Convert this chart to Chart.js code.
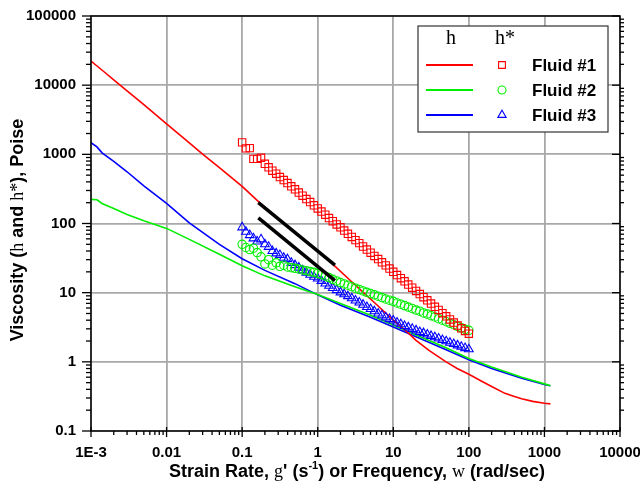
<!DOCTYPE html>
<html>
<head>
<meta charset="utf-8">
<script src="https://cdn.jsdelivr.net/npm/chart.js@4.4.1/dist/chart.umd.min.js"></script>
<style>
  html, body { margin: 0; padding: 0; background: #fff; }
</style>
</head>
<body>
<canvas id="chart" width="640" height="491"></canvas>
<script>
// axis ticks
const xTickValues = [0.001, 0.01, 0.1, 1, 10, 100, 1000, 10000];
const xTickLabels = ['1E-3', '0.01', '0.1', '1', '10', '100', '1000', '10000'];
const yTickValues = [0.1, 1, 10, 100, 1000, 10000, 100000];
const yTickLabels = ['0.1', '1', '10', '100', '1000', '10000', '100000'];

// steady shear viscosity (lines)
const fluid1EtaX = [0.001, 0.0015, 0.002, 0.003, 0.005, 0.01, 0.02, 0.03, 0.05, 0.1, 0.17, 0.3, 0.5, 1, 1.7, 2.7, 4, 6, 10, 15, 20, 30, 50, 70, 100, 150, 200, 300, 400, 500, 700, 1000, 1200];
const fluid1EtaY = [22300, 15500, 11950, 8300, 5240, 2750, 1470, 1010, 645, 345, 200, 117, 74, 40, 24, 15, 10.1, 6.75, 4.0, 2.75, 2.05, 1.45, 1.0, 0.8, 0.66, 0.52, 0.44, 0.35, 0.315, 0.292, 0.268, 0.252, 0.247];
const fluid2EtaX = [0.001, 0.0012, 0.0014, 0.002, 0.003, 0.005, 0.01, 0.02, 0.05, 0.1, 0.2, 0.5, 1, 2, 5, 10, 20, 50, 100, 200, 500, 1000, 1200];
const fluid2EtaY = [223, 220, 195, 165, 135, 110, 85, 59, 36, 24.5, 17.5, 12.2, 9.4, 7.0, 4.7, 3.4, 2.45, 1.6, 1.12, 0.84, 0.6, 0.48, 0.45];
const fluid3EtaX = [0.001, 0.0012, 0.0014, 0.002, 0.003, 0.005, 0.01, 0.02, 0.05, 0.1, 0.2, 0.5, 1, 2, 5, 10, 20, 50, 100, 200, 500, 1000, 1200];
const fluid3EtaY = [1470, 1280, 1050, 790, 560, 350, 196, 102, 50, 31, 21, 13.5, 9.3, 6.6, 4.4, 3.2, 2.3, 1.5, 1.07, 0.8, 0.58, 0.47, 0.45];

// complex viscosity (markers), shared frequencies
const freq = [
  0.1, 0.112, 0.126, 0.141, 0.158, 0.178, 0.2, 0.224, 0.251, 0.282, 0.316, 0.355, 0.398, 0.447, 0.501, 0.562, 0.631, 0.708, 0.794, 0.891,
  1, 1.12, 1.26, 1.41, 1.58, 1.78, 2, 2.24, 2.51, 2.82, 3.16, 3.55, 3.98, 4.47, 5.01, 5.62, 6.31, 7.08, 7.94, 8.91,
  10, 11.2, 12.6, 14.1, 15.8, 17.8, 20, 22.4, 25.1, 28.2, 31.6, 35.5, 39.8, 44.7, 50.1, 56.2, 63.1, 70.8, 79.4, 89.1,
  100
];
const fluid1EtaStar = [
  1490, 1220, 1230, 860, 860, 890, 730, 650, 580, 525, 470, 425, 385, 345, 312, 280, 252, 226, 204, 183,
  165, 149, 134, 120, 108, 97, 88, 79, 71, 64, 57.5, 52, 46.5, 42, 37.8, 34, 30.6, 27.5, 24.8, 22.3,
  20, 18, 16.2, 14.6, 13.1, 11.8, 10.6, 9.55, 8.6, 7.75, 6.95, 6.25, 5.62, 5.05, 4.55, 4.1, 3.7, 3.35, 3.05, 2.8,
  2.55
];
const fluid2EtaStar = [
  50, 45, 42, 44, 38, 33, 26, 30, 25, 27, 24, 25, 23.5, 23, 22.5, 22, 21.3, 20.8, 20.2, 19.7,
  19, 18.2, 17.3, 16.5, 15.6, 14.8, 14, 13.4, 12.8, 12.2, 11.6, 11.1, 10.6, 10.1, 9.7, 9.3, 8.9, 8.5, 8.1, 7.8,
  7.5, 7.1, 6.8, 6.5, 6.2, 5.9, 5.6, 5.4, 5.1, 4.9, 4.65, 4.45, 4.2, 4.0, 3.8, 3.6, 3.45, 3.25, 3.1, 2.95,
  2.85
];
const fluid3EtaStar = [
  88, 76, 68, 61, 55, 59, 50, 46, 40, 37, 35, 32, 30.5, 27, 25, 23, 21, 19.5, 18.2, 17,
  16, 14.8, 13.6, 12.6, 11.7, 10.9, 10.1, 9.5, 8.9, 8.3, 7.7, 7.2, 6.7, 6.2, 5.8, 5.4, 5.0, 4.7, 4.4, 4.15,
  3.95, 3.7, 3.5, 3.3, 3.15, 3.0, 2.85, 2.7, 2.6, 2.48, 2.37, 2.27, 2.17, 2.07, 1.98, 1.89, 1.81, 1.73, 1.65, 1.58,
  1.52
];

// black slope guide lines
const guideUpperX = [0.164, 1.69];
const guideUpperY = [200, 25];
const guideLowerX = [0.164, 1.69];
const guideLowerY = [121, 14.9];

const fluidNames = ['Fluid #1', 'Fluid #2', 'Fluid #3'];
const fluidColors = ['#ff0000', '#00ee00', '#0000ff'];
const markerStyles = ['rect', 'circle', 'triangle'];

const SANS_B = 'bold 18px "Liberation Sans", Arial, sans-serif';
const SERIF = '18px "Liberation Serif", "Times New Roman", serif';
const SUP = 'bold 11px "Liberation Sans", Arial, sans-serif';

const toPoints = (xs, ys) => xs.map((x, i) => ({ x, y: ys[i] }));

function lineSet(xs, ys, color) {
  return {
    data: toPoints(xs, ys),
    showLine: true,
    borderColor: color,
    borderWidth: 1.6,
    pointRadius: 0,
    tension: 0,
    order: 2,
  };
}

function markerSet(ys, color, style, radius) {
  return {
    data: toPoints(freq, ys),
    showLine: false,
    pointStyle: style,
    pointRadius: radius,
    borderColor: color,
    backgroundColor: 'transparent',
    pointBorderWidth: 1.1,
    order: 1,
  };
}

function guideSet(xs, ys) {
  return {
    data: toPoints(xs, ys),
    showLine: true,
    borderColor: '#000',
    borderWidth: 3.5,
    pointRadius: 0,
    order: 0,
  };
}

function drawRuns(ctx, runs, cx, cy) {
  let total = 0;
  runs.forEach(r => { ctx.font = r.font; total += ctx.measureText(r.text).width; });
  let x = cx - total / 2;
  ctx.textAlign = 'left';
  ctx.textBaseline = 'middle';
  runs.forEach(r => {
    ctx.font = r.font;
    ctx.fillText(r.text, x, cy + (r.dy || 0));
    x += ctx.measureText(r.text).width;
  });
}

function line(ctx, x1, y1, x2, y2) {
  ctx.beginPath();
  ctx.moveTo(x1, y1);
  ctx.lineTo(x2, y2);
  ctx.stroke();
}

const decorations = {
  id: 'decorations',
  afterDraw(chart) {
    const { ctx, chartArea: a, scales: { x, y } } = chart;
    ctx.save();

    // frame
    ctx.strokeStyle = '#000';
    ctx.lineWidth = 1.5;
    ctx.strokeRect(a.left, a.top, a.right - a.left, a.bottom - a.top);

    // tick marks (major and minor)
    ctx.lineWidth = 1.3;
    xTickValues.forEach((v, i) => {
      for (let m = 1; m <= 9; m++) {
        if (i === xTickValues.length - 1 && m > 1) break;
        const px = x.getPixelForValue(v * m);
        if (m === 1) line(ctx, px, a.bottom - 4, px, a.bottom + 6);
        else line(ctx, px, a.bottom, px, a.bottom + 4);
      }
    });
    yTickValues.forEach((v, i) => {
      for (let m = 1; m <= 9; m++) {
        if (i === yTickValues.length - 1 && m > 1) break;
        const py = y.getPixelForValue(v * m);
        if (m === 1) {
          line(ctx, a.left - 9, py, a.left, py);
          line(ctx, a.right - 8, py, a.right, py);
        } else {
          line(ctx, a.left - 5, py, a.left, py);
          line(ctx, a.right, py, a.right + 4, py);
        }
      }
    });

    // axis titles
    ctx.fillStyle = '#000';
    drawRuns(ctx, [
      { text: 'Strain Rate, ', font: SANS_B },
      { text: 'g', font: SERIF },
      { text: "' (s", font: SANS_B },
      { text: '-1', font: SUP, dy: -6 },
      { text: ') or Frequency, ', font: SANS_B },
      { text: 'w', font: SERIF },
      { text: ' (rad/sec)', font: SANS_B },
    ], 357, 472);

    ctx.save();
    ctx.translate(18, 230);
    ctx.rotate(-Math.PI / 2);
    drawRuns(ctx, [
      { text: 'Viscosity (', font: SANS_B },
      { text: 'h', font: SERIF },
      { text: ' and ', font: SANS_B },
      { text: 'h*', font: SERIF },
      { text: '), Poise', font: SANS_B },
    ], 0, 0);
    ctx.restore();

    // legend box
    const lx = 418, ly = 26, lw = 190, lh = 106;
    ctx.fillStyle = '#fff';
    ctx.fillRect(lx, ly, lw, lh);
    ctx.strokeStyle = '#333';
    ctx.lineWidth = 1.2;
    ctx.strokeRect(lx, ly, lw, lh);

    ctx.fillStyle = '#000';
    ctx.textBaseline = 'middle';
    ctx.textAlign = 'center';
    ctx.font = '20px "Liberation Serif", "Times New Roman", serif';
    ctx.fillText('h', 451, 39);
    ctx.fillText('h*', 505, 39);

    fluidNames.forEach((name, i) => {
      const ry = 65 + i * 25;
      ctx.strokeStyle = fluidColors[i];
      ctx.lineWidth = 1.8;
      line(ctx, 426, ry, 473, ry);
      ctx.fillStyle = 'rgba(0,0,0,0)';
      ctx.lineWidth = 1.1;
      Chart.helpers.drawPoint(ctx, {
        pointStyle: markerStyles[i],
        radius: [4.8, 4.0, 4.8][i],
        borderWidth: 1.1,
      }, 502, ry);
      ctx.fillStyle = '#000';
      ctx.textAlign = 'left';
      ctx.font = 'bold 17px "Liberation Sans", Arial, sans-serif';
      ctx.fillText(name, 532, ry + 1);
    });

    ctx.restore();
  },
};

const tickFont = { family: '"Liberation Sans", Arial, sans-serif', size: 15, weight: 'bold' };

new Chart(document.getElementById('chart'), {
  type: 'scatter',
  data: {
    datasets: [
      lineSet(fluid1EtaX, fluid1EtaY, fluidColors[0]),
      lineSet(fluid2EtaX, fluid2EtaY, fluidColors[1]),
      lineSet(fluid3EtaX, fluid3EtaY, fluidColors[2]),
      markerSet(fluid1EtaStar, fluidColors[0], 'rect', 5.2),
      markerSet(fluid2EtaStar, fluidColors[1], 'circle', 4.2),
      markerSet(fluid3EtaStar, fluidColors[2], 'triangle', 5),
      guideSet(guideUpperX, guideUpperY),
      guideSet(guideLowerX, guideLowerY),
    ],
  },
  options: {
    responsive: false,
    animation: false,
    devicePixelRatio: 1,
    layout: { padding: { top: 16, right: 20, left: 0, bottom: 0 } },
    plugins: {
      legend: { display: false },
      tooltip: { enabled: false },
    },
    scales: {
      x: {
        type: 'logarithmic',
        min: 0.001,
        max: 10000,
        afterBuildTicks: scale => { scale.ticks = xTickValues.map(v => ({ value: v, major: true })); },
        afterFit: scale => {
          scale.height = 60;
          scale.paddingLeft = 0;
          scale.paddingRight = 0;
        },
        border: { display: false },
        grid: { color: '#a8a8a8', lineWidth: 1.8, drawTicks: true, tickLength: 12, tickColor: 'rgba(0,0,0,0)' },
        ticks: {
          autoSkip: false,
          maxRotation: 0,
          padding: 1,
          color: '#000',
          font: tickFont,
          callback: (value, index) => xTickLabels[index],
        },
      },
      y: {
        type: 'logarithmic',
        min: 0.1,
        max: 100000,
        afterBuildTicks: scale => { scale.ticks = yTickValues.map(v => ({ value: v, major: true })); },
        afterFit: scale => {
          scale.width = 91;
          scale.paddingTop = 0;
          scale.paddingBottom = 0;
        },
        border: { display: false },
        grid: { color: '#a8a8a8', lineWidth: 1.8, drawTicks: true, tickLength: 14, tickColor: 'rgba(0,0,0,0)' },
        ticks: {
          autoSkip: false,
          padding: 1,
          color: '#000',
          font: tickFont,
          callback: (value, index) => yTickLabels[index],
        },
      },
    },
  },
  plugins: [decorations],
});
</script>
</body>
</html>
